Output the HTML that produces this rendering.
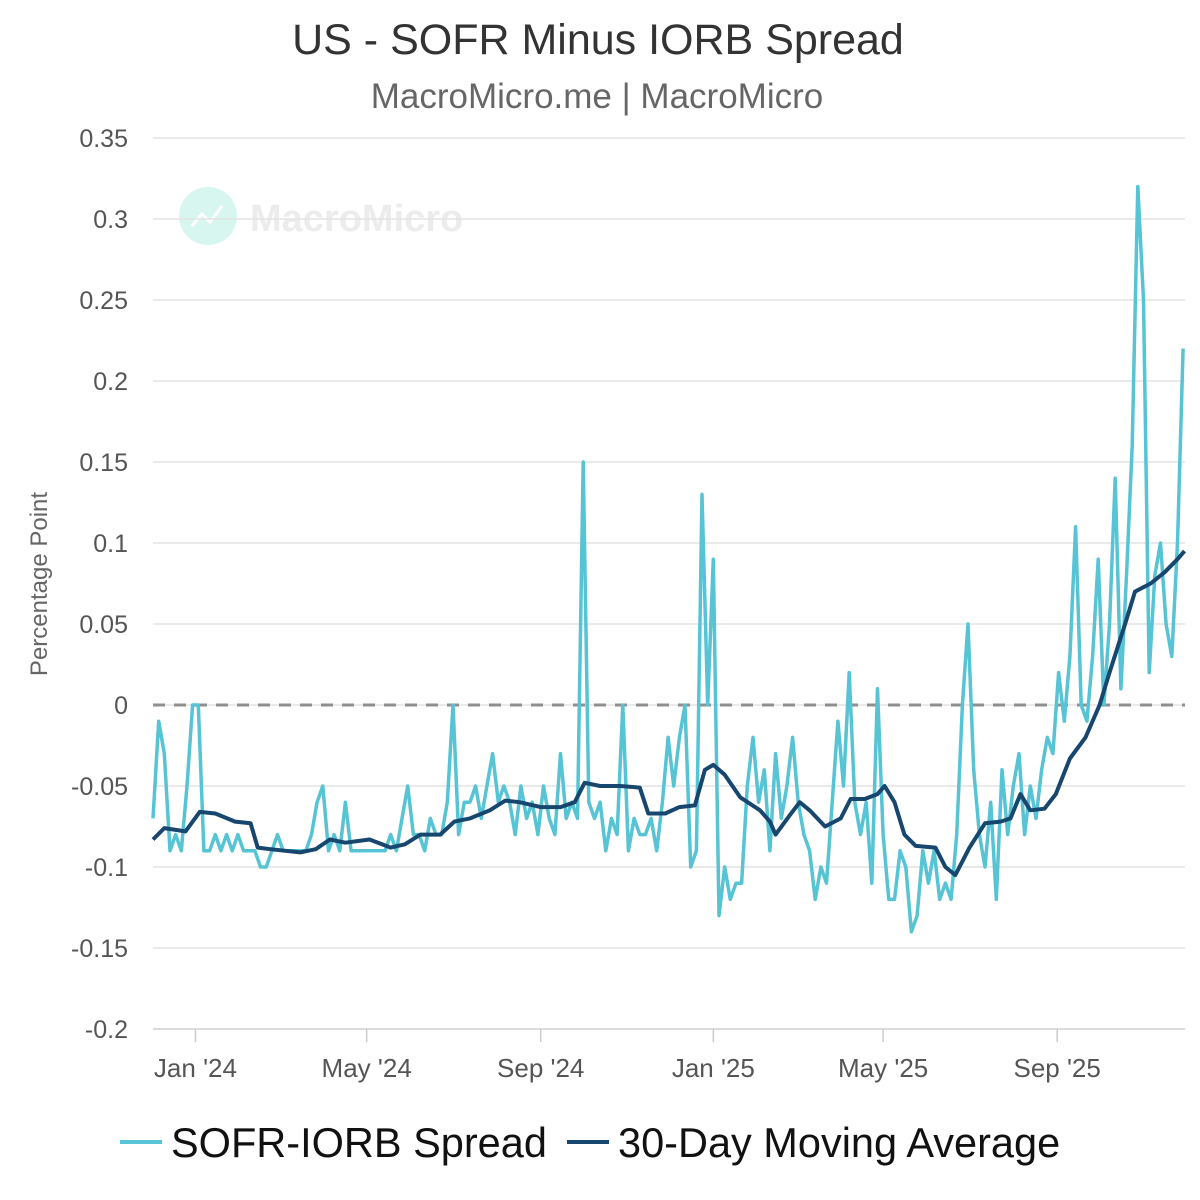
<!DOCTYPE html>
<html><head><meta charset="utf-8"><style>
html,body{margin:0;padding:0;background:#fff;}
svg{display:block;font-family:"Liberation Sans",sans-serif;}
</style></head><body>
<svg id="chart" width="1200" height="1200" viewBox="0 0 1200 1200">
<text x="598" y="54" text-anchor="middle" font-size="43" fill="#333">US - SOFR Minus IORB Spread</text>
<text x="597" y="108" text-anchor="middle" font-size="35" fill="#666">MacroMicro.me | MacroMicro</text>
<g opacity="0.45">
<circle cx="208" cy="216" r="29" fill="#a8ece0"/>
<polyline points="192,226 202,214 210,222 222,206" fill="none" stroke="#fff" stroke-width="3"/>
<text x="250" y="231" font-size="38" font-weight="bold" fill="#d6d6d6">MacroMicro</text>
</g>
<g id="grid"></g>
<g id="yticks"></g>
<g id="xticks"></g>
<text transform="translate(47,584) rotate(-90)" text-anchor="middle" font-size="24" fill="#666">Percentage Point</text>
<line x1="153" x2="1185" y1="705" y2="705" stroke="#8f8f8f" stroke-width="3" stroke-dasharray="12,9"/>
<path id="spread" fill="none" stroke="#56c4d4" stroke-width="3.5" stroke-linejoin="round"/>
<path id="ma" fill="none" stroke="#17466e" stroke-width="4" stroke-linejoin="round"/>
<g>
<g>
<line x1="120" x2="162" y1="1142" y2="1142" stroke="#56c4d4" stroke-width="4"/>
<text x="171" y="1157" font-size="41.5" fill="#111">SOFR-IORB Spread</text></g>
<g>
<line x1="567" x2="609" y1="1142" y2="1142" stroke="#17466e" stroke-width="4"/>
<text x="618" y="1157" font-size="41.5" fill="#111">30-Day Moving Average</text></g>
</g>
</svg>
<script>
const yTicks=[0.35,0.3,0.25,0.2,0.15,0.1,0.05,0,-0.05,-0.1,-0.15,-0.2];
const yTickLabels=["0.35","0.3","0.25","0.2","0.15","0.1","0.05","0","-0.05","-0.1","-0.15","-0.2"];
const xTickDays=[30,151,274,396,516,639];
const xTickLabels=["Jan '24","May '24","Sep '24","Jan '25","May '25","Sep '25"];
const spreadStepDays=4;
const spreadBp=[-7,-1,-3,-9,-8,-9,-5,0,0,-9,-9,-8,-9,-8,-9,-8,-9,-9,-9,-10,-10,-9,-8,-9,-9,-9,-9,-9,-8,-6,-5,-9,-8,-9,-6,-9,-9,-9,-9,-9,-9,-9,-8,-9,-7,-5,-8,-8,-9,-7,-8,-8,-6,0,-8,-6,-6,-5,-7,-5,-3,-6,-5,-6,-8,-5,-7,-6,-8,-5,-7,-8,-3,-7,-6,-7,15,-6,-7,-6,-9,-7,-8,0,-9,-7,-8,-8,-7,-9,-6,-2,-5,-2,0,-10,-9,13,0,9,-13,-10,-12,-11,-11,-5,-2,-6,-4,-9,-3,-7,-5,-2,-6,-8,-9,-12,-10,-11,-6,-1,-5,2,-6,-8,-6,-11,1,-8,-12,-12,-9,-10,-14,-13,-9,-11,-9,-12,-11,-12,-8,0,5,-4,-8,-10,-6,-12,-4,-8,-5,-3,-8,-5,-7,-4,-2,-3,2,-1,3,11,0,-1,3,9,0,5,14,1,8,16,32,25,2,8,10,5,3,10,22];
const maDays=[0,8,23,33,44,58,69,74,83,104,115,125,136,153,168,178,189,203,213,224,238,249,259,274,288,298,305,316,330,344,350,362,372,383,390,396,404,415,429,436,440,450,457,464,475,486,493,503,512,517,524,531,539,553,560,567,577,588,599,606,613,620,630,638,648,659,669,676,687,694,705,715,724,729];
const maValues=[-0.083,-0.076,-0.078,-0.066,-0.067,-0.072,-0.073,-0.088,-0.089,-0.091,-0.089,-0.083,-0.085,-0.083,-0.088,-0.086,-0.08,-0.08,-0.072,-0.07,-0.065,-0.059,-0.06,-0.063,-0.063,-0.06,-0.048,-0.05,-0.05,-0.051,-0.067,-0.067,-0.063,-0.062,-0.04,-0.037,-0.043,-0.057,-0.065,-0.072,-0.08,-0.068,-0.06,-0.065,-0.075,-0.07,-0.058,-0.058,-0.055,-0.05,-0.06,-0.08,-0.087,-0.088,-0.1,-0.105,-0.088,-0.073,-0.072,-0.07,-0.055,-0.065,-0.064,-0.055,-0.033,-0.02,0.0,0.02,0.05,0.07,0.075,0.082,0.09,0.095];

const NS="http://www.w3.org/2000/svg";
const X0=153,X1=1185,PXD=1.415;
const xs=d=>X0+d*PXD;
const ys=v=>705-v*1620;
const grid=document.getElementById('grid'),yt=document.getElementById('yticks'),xt=document.getElementById('xticks');
yTicks.forEach((v,i)=>{
  const l=document.createElementNS(NS,'line');
  
  
  l.setAttribute('x1',X0);l.setAttribute('x2',X1);l.setAttribute('y1',ys(v));l.setAttribute('y2',ys(v));
  l.setAttribute('stroke',v===-0.2?'#cfcfcf':'#e3e3e3');l.setAttribute('stroke-width','1.5');
  grid.appendChild(l);
  const t=document.createElementNS(NS,'text');
  
  
  t.setAttribute('x',128);t.setAttribute('y',ys(v)+9);t.setAttribute('text-anchor','end');
  t.setAttribute('font-size','25');t.setAttribute('fill','#555');t.textContent=yTickLabels[i];
  yt.appendChild(t);
});
xTickDays.forEach((d,i)=>{
  const l=document.createElementNS(NS,'line');
  
  
  l.setAttribute('x1',xs(d));l.setAttribute('x2',xs(d));l.setAttribute('y1',1029);l.setAttribute('y2',1042);
  l.setAttribute('stroke','#ccc');l.setAttribute('stroke-width','1.5');
  xt.appendChild(l);
  const t=document.createElementNS(NS,'text');
  
  
  t.setAttribute('x',xs(d));t.setAttribute('y',1077);t.setAttribute('text-anchor','middle');
  t.setAttribute('font-size','26');t.setAttribute('fill','#555');t.textContent=xTickLabels[i];
  xt.appendChild(t);
});
document.getElementById('spread').setAttribute('d',spreadBp.map((v,i)=>(i?'L':'M')+xs(i*spreadStepDays).toFixed(1)+','+ys(v/100).toFixed(1)).join(''));
document.getElementById('ma').setAttribute('d',maValues.map((v,i)=>(i?'L':'M')+xs(maDays[i]).toFixed(1)+','+ys(v).toFixed(1)).join(''));
</script>
</body></html>
